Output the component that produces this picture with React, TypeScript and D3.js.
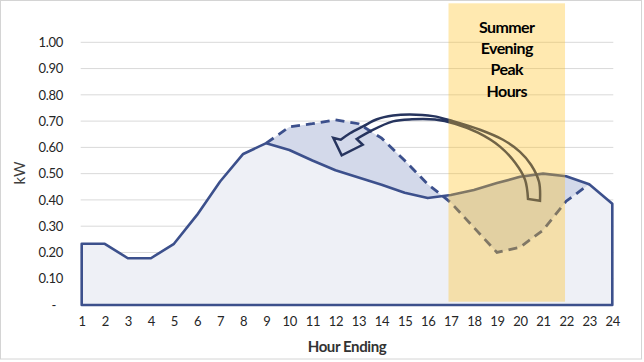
import React, { useEffect, useRef } from "react";
import * as d3 from "d3";

// hour ending 1..24, typical summer weekday load (kW)
const hours = [1, 2, 3, 4, 5, 6, 7, 8, 9, 10, 11, 12, 13, 14, 15, 16, 17, 18, 19, 20, 21, 22, 23, 24];
const baseLoad = [
  0.233, 0.233, 0.178, 0.178, 0.233, 0.343, 0.47, 0.575, 0.616, 0.59, 0.55, 0.513,
  0.485, 0.458, 0.427, 0.407, 0.419, 0.438, 0.464, 0.488, 0.5, 0.49, 0.46, 0.385,
];

// load after pre-cooling shift (dashed)
const shiftHours = [9, 10, 11, 12, 13, 14, 15, 16, 17, 18, 19, 20, 21, 22, 23];
const shiftLoad = [0.616, 0.678, 0.69, 0.705, 0.69, 0.635, 0.55, 0.46, 0.39, 0.295, 0.2, 0.22, 0.285, 0.395, 0.46];

const yTicks = [0, 0.1, 0.2, 0.3, 0.4, 0.5, 0.6, 0.7, 0.8, 0.9, 1.0];
const yTickLabels = ["-", "0.10", "0.20", "0.30", "0.40", "0.50", "0.60", "0.70", "0.80", "0.90", "1.00"];

const peakStart = 16.9;
const peakEnd = 21.95;
const peakLabel = ["Summer", "Evening", "Peak", "Hours"];

// curved arrow outline in [hour, kW], tail at the evening peak, head over the pre-cool hump
const arrowOuter: [number, number][] = [
  [20.866, 0.397], [20.823, 0.469], [20.476, 0.534], [19.999, 0.583], [19.262, 0.629],
  [18.265, 0.667], [17.095, 0.7], [16.228, 0.719], [15.231, 0.725], [14.494, 0.721],
  [13.8, 0.707], [13.193, 0.68], [12.63, 0.654], [12.227, 0.629],
];
const arrowHead: [number, number][] = [[11.906, 0.636], [12.27, 0.57], [13.18, 0.61], [12.92, 0.632]];
const arrowInner: [number, number][] = [
  [12.92, 0.632], [13.497, 0.661], [14.494, 0.699], [15.317, 0.707],
  [16.314, 0.706], [17.181, 0.69], [18.178, 0.656], [19.132, 0.603], [19.782, 0.542],
  [20.216, 0.477], [20.346, 0.404],
];

const W = 644;
const H = 362;

const App = () => {
  const ref = useRef<SVGSVGElement>(null);

  useEffect(() => {
    const svg = d3.select(ref.current);
    svg.selectAll("*").remove();

    const x = d3.scaleLinear().domain([1, 24]).range([81.7, 612.3]);
    const y = d3.scaleLinear().domain([0, 1]).range([305, 42.3]);
    const font = "Lato, 'DejaVu Sans', sans-serif";

    svg.append("rect").attr("width", W).attr("height", H).attr("fill", "#fff");
    svg.append("rect")
      .attr("x", 0.5).attr("y", 0.5).attr("width", 641).attr("height", 358.5)
      .attr("fill", "none").attr("stroke", "#d4d4d4");

    // gridlines
    svg.append("g")
      .selectAll("line")
      .data(yTicks.slice(1))
      .join("line")
      .attr("x1", x(1) - 1).attr("x2", x(24) + 1)
      .attr("y1", (d) => y(d)).attr("y2", (d) => y(d))
      .attr("stroke", "#d9d9d9").attr("stroke-width", 1);

    const baseData = hours.map((h, i) => ({ h, v: baseLoad[i] }));
    const shiftData = shiftHours.map((h, i) => ({ h, v: shiftLoad[i], b: baseLoad[hours.indexOf(h)] }));

    const baseArea = d3.area<{ h: number; v: number }>()
      .x((d) => x(d.h)).y0(y(0)).y1((d) => y(d.v));

    svg.append("path").datum(baseData).attr("d", baseArea).attr("fill", "#eef0f6");

    const gapArea = d3.area<{ h: number; v: number; b: number }>()
      .x((d) => x(d.h)).y0((d) => y(d.b)).y1((d) => y(d.v));
    svg.append("path").datum(shiftData).attr("d", gapArea).attr("fill", "#d3d9ea");

    svg.append("path").datum(baseData).attr("d", baseArea)
      .attr("fill", "none").attr("stroke", "#3c508c").attr("stroke-width", 2.6)
      .attr("stroke-linejoin", "round");

    const line = d3.line<{ h: number; v: number }>().x((d) => x(d.h)).y((d) => y(d.v));
    svg.append("path").datum(shiftData).attr("d", line)
      .attr("fill", "none").attr("stroke", "#3c508c").attr("stroke-width", 2.8)
      .attr("stroke-dasharray", "9,6");

    // arrow
    const curve = d3.line<[number, number]>().x((d) => x(d[0])).y((d) => y(d[1])).curve(d3.curveCatmullRom);
    const straight = d3.line<[number, number]>().x((d) => x(d[0])).y((d) => y(d[1]));
    const arrowD =
      curve(arrowOuter) +
      (straight(arrowHead) || "").replace(/^M/, "L") +
      (curve(arrowInner) || "").replace(/^M/, "L") + "Z";
    svg.append("path").attr("d", arrowD)
      .attr("fill", "none").attr("stroke", "#26345e").attr("stroke-width", 2.5)
      .attr("stroke-linejoin", "miter");

    // peak window
    svg.append("rect")
      .attr("x", x(peakStart)).attr("width", x(peakEnd) - x(peakStart))
      .attr("y", 3.3).attr("height", y(0) - 3.3 - 3.3)
      .attr("fill", "rgb(255,192,30)").attr("fill-opacity", 0.35);

    const cx = (x(peakStart) + x(peakEnd)) / 2;
    svg.append("g")
      .selectAll("text")
      .data(peakLabel)
      .join("text")
      .attr("x", cx).attr("y", (_d, i) => 32.5 + i * 21.4)
      .attr("text-anchor", "middle")
      .attr("font-family", font).attr("font-weight", 700).attr("font-size", 16)
      .attr("letter-spacing", -0.6).attr("fill", "#000")
      .text((d) => d);

    // axes
    const yAxis = svg.append("g")
      .attr("transform", "translate(63,0)")
      .call(d3.axisLeft(y).tickValues(yTicks).tickSize(0).tickPadding(0)
        .tickFormat((_d, i) => yTickLabels[i]));
    yAxis.select(".domain").remove();
    yAxis.selectAll("text").attr("font-family", font).attr("font-size", 13).attr("fill", "#262626")
      .attr("letter-spacing", -0.3);
    yAxis.selectAll("text").filter((_d, i) => i === 0).attr("dx", -7);

    const xAxis = svg.append("g")
      .attr("transform", `translate(0,${y(0)})`)
      .call(d3.axisBottom(x).tickValues(hours).tickSize(0).tickPadding(12).tickFormat(d3.format("d")));
    xAxis.select(".domain").remove();
    xAxis.selectAll("text").attr("font-family", font).attr("font-size", 13).attr("fill", "#262626")
      .attr("letter-spacing", -0.3);

    svg.append("text")
      .attr("transform", `translate(25,173) rotate(-90)`)
      .attr("text-anchor", "middle")
      .attr("font-family", font).attr("font-size", 15).attr("fill", "#404040")
      .text("kW");

    svg.append("text")
      .attr("x", (x(1) + x(24)) / 2).attr("y", 352)
      .attr("text-anchor", "middle")
      .attr("font-family", font).attr("font-weight", 700).attr("font-size", 15)
      .attr("letter-spacing", -0.4).attr("fill", "#333")
      .text("Hour Ending");
  }, []);

  return (
    <svg ref={ref} width={W} height={H} style={{ position: "absolute", left: 0, top: 0 }} />
  );
};

export default App;
